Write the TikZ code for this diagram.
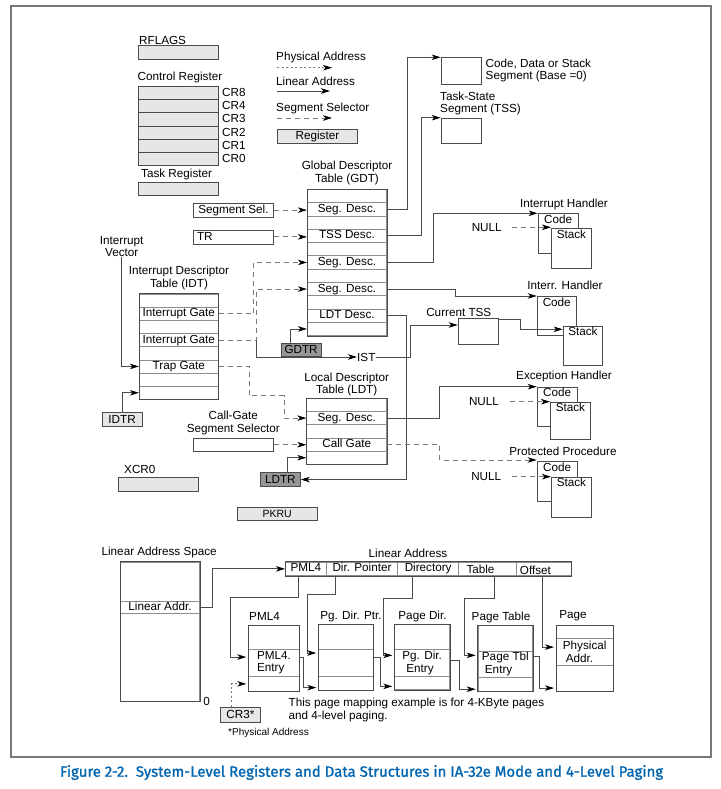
\documentclass[tikz,border=0pt]{standalone}
\usepackage{fontspec}
\setmainfont{Liberation Sans}
\newfontfamily\capfont{Fira Sans}[FakeBold=1.2]
\usetikzlibrary{arrows.meta,calc}
\definecolor{linec}{RGB}{75,75,75}
\definecolor{dashc}{RGB}{120,120,120}
\definecolor{regfill}{RGB}{230,230,230}
\definecolor{darkfill}{RGB}{150,150,150}
\definecolor{rowc}{RGB}{140,140,140}
\definecolor{capblue}{RGB}{0,100,175}
\definecolor{framec}{RGB}{120,120,120}
\newcommand\mybx[6]{\node[#1, minimum width={(#4)-(#2)}, minimum height={(#5)-(#3)}] (#6) at (#2,#3)}
\tikzset{
  reg/.style={draw=linec, fill=regfill, line width=0.8pt, anchor=north west},
  dreg/.style={draw=linec, fill=darkfill, line width=0.8pt, anchor=north west},
  wbox/.style={draw=linec, fill=white, line width=0.8pt, anchor=north west},
  row/.style={draw=rowc, line width=0.7pt, fill=white, text height=8.5pt, text depth=2.5pt},
  mrow/.style={draw=rowc, line width=0.7pt, fill=white, align=left, font=\fontsize{11.7}{12.6}\selectfont},
  tabb/.style={draw=linec, line width=0.9pt},
  tip/.style={-{Stealth[length=9pt,width=5.5pt,inset=2.5pt,color=black]}},
  lin/.style={draw=linec, line width=0.85pt, tip},
  segl/.style={draw=dashc, line width=0.85pt, dash pattern=on 5pt off 4pt, tip},
  phys/.style={draw=dashc, line width=0.85pt, dash pattern=on 2pt off 2.5pt, tip},
  pg/.style={lin, shorten >=2pt},
  lbl/.style={label={[anchor=north,inner sep=1.5pt]north:#1}},
  two/.style={align=center, font=\fontsize{11.7}{12.8}\selectfont},
}
\begin{document}
\begin{tikzpicture}[x=1pt,y=-1pt, font=\fontsize{11.7}{13.3}\selectfont, inner sep=0pt]
\useasboundingbox (0,0) rectangle (720,789);
\draw[framec, line width=1.6pt] (11,6) rectangle (711,757);

% ---------- registers ----------
\node[anchor=west] (trflags) at (139,40) {RFLAGS};
\mybx{reg}{138}{45}{218}{59}{rflags}{};
\node[anchor=west] (tcr) at (137.5,77) {Control Register};
\foreach \n/\t [count=\i] in {crr8/CR8,crr4/CR4,crr3/CR3,crr2/CR2,crr1/CR1,crr0/CR0} {
  \node[reg, minimum width=79.5, minimum height=13.17] (\n) at (138,{86+13.17*(\i-1)}) {};
  \node[anchor=west] (t\n) at (222,{86+13.17*(\i-0.5)}) {\t};
}
\node[anchor=west] (ttask) at (141,174) {Task Register};
\mybx{reg}{138}{182}{218}{195}{taskreg}{};

% ---------- legend ----------
\node[anchor=west] (lgp) at (276,57.7) {Physical Address};
\coordinate (lgp1) at (277,67.7); \coordinate (lgp2) at (332,67.7);
\draw[phys] (lgp1) -- (lgp2);
\node[anchor=west] (lgl) at (276,81) {Linear Address};
\coordinate (lgl1) at (277,91); \coordinate (lgl2) at (330,91);
\draw[lin] (lgl1) -- (lgl2);
\node[anchor=west] (lgs) at (276,108) {Segment Selector};
\coordinate (lgs1) at (277,118); \coordinate (lgs2) at (332,118);
\draw[segl] (lgs1) -- (lgs2);
\mybx{reg}{277}{129}{357}{143}{lgreg}{Register};

% ---------- segments ----------
\mybx{wbox}{440.7}{57.3}{480.7}{84}{cds}{};
\node[anchor=west, align=left, font=\fontsize{11.7}{11.8}\selectfont] (tcds) at (485.5,70.2) {Code, Data or Stack\\Segment (Base =0)};
\mybx{wbox}{440.7}{117.7}{480.7}{143.3}{tss}{};
\node[anchor=west, align=left, font=\fontsize{11.7}{12}\selectfont] (ttss) at (440,103.3) {Task-State\\Segment (TSS)};

% ---------- GDT ----------
\node[two] (tgdt) at (347,172.7) {Global Descriptor\\Table (GDT)};
\foreach \t [count=\i] in {{},{Seg. Desc.},{},{TSS Desc.},{},{Seg. Desc.},{},{Seg. Desc.},{},{LDT Desc.},{}}
  \node[row, minimum width=79.4, minimum height=13.3] (g\i) at (347,{189.3+13.3*(\i-0.5)}) {\t};
\draw[tabb] (g1.north west) rectangle (g11.south east);

\mybx{wbox}{193.3}{202.7}{272.7}{216.7}{segsel}{Segment Sel.};
\mybx{wbox}{193.3}{229.5}{272.7}{243.5}{tr}{};
\node[anchor=west] (ttr) at ([xshift=3.5pt]tr.west) {TR};
\draw[segl] (segsel.east) -- (segsel.east -| g2.west);
\draw[segl] (tr.east) -- (tr.east -| g4.west);
\mybx{dreg}{280.7}{342.7}{320.7}{356}{gdtr}{GDTR};
\draw[lin] ([xshift=-10.7pt]gdtr.north) |- (g11.west);

\draw[lin] (g2.east) -- ++(20,0) |- (cds.north west);
\draw[lin] (g4.east) -- ++(34.6,0) |- (tss.north west);

% ---------- IDT ----------
\node[two] (tidt) at (179,278.3) {Interrupt Descriptor\\Table (IDT)};
\foreach \t [count=\i] in {{},{Interrupt Gate},{},{Interrupt Gate},{},{Trap Gate},{},{}}
  \node[row, minimum width=79, minimum height=13.17] (i\i) at (178.8,{294+13.17*(\i-0.5)}) {\t};
\draw[tabb] (i1.north west) rectangle (i8.south east);
\node[two] (tiv) at (121.7,246.5) {Interrupt\\Vector};
\draw[lin] (tiv.south) |- (i6.west);
\mybx{reg}{101.7}{412.3}{141.7}{426}{idtr}{IDTR};
\draw[lin] (idtr.north) |- (i8.west);

\draw[segl] (i2.east) -- ++(35,0) |- (g6.west);
\coordinate (j2) at ($(i4.east)+(37.7,0)$);
\draw[segl] (i4.east) -- (j2) |- (g8.west);
\node[anchor=west] (ist) at (357,357) {IST};
\draw[lin] (j2) |- (ist.west);

% ---------- handlers ----------
\node (tih1) at (564,204.3) {Interrupt Handler};
\mybx{wbox,lbl=Code}{537.7}{213.3}{577.7}{252.7}{ih1code}{};
\mybx{wbox,lbl=Stack}{551}{228.3}{591}{268.3}{ih1stack}{};
\draw[lin] (g6.east) -- ++(46.6,0) |- (ih1code.north west);
\node (null1) at (486.7,227.3) {NULL};
\draw[segl] ([xshift=10pt]null1.east) -- (null1.east -| ih1stack.west);

\mybx{wbox}{457.7}{318.3}{497.7}{344.3}{ctss}{};
\node (tctss) at (458.8,312.5) {Current TSS};
\draw[lin] (ist.east) -- ++(35,0) |- ([yshift=-6.7pt]ctss.north west);

\node (tih2) at (565,285) {Interr. Handler};
\mybx{wbox,lbl=Code}{536.7}{296}{576}{335}{ih2code}{};
\mybx{wbox,lbl=Stack}{562.7}{325.7}{602.3}{365}{ih2stack}{};
\draw[lin] (g8.east) -- ++(68.3,0) |- (ih2code.north west);
\draw[lin] ([yshift=-1pt]ctss.north east) -- ++(21.6,0) |- ([yshift=-3.6pt]ih2stack.north west);

% ---------- LDT ----------
\node[two] (tldt) at (346.7,384.5) {Local Descriptor\\Table (LDT)};
\foreach \t [count=\i] in {{},{Seg. Desc.},{},{Call Gate},{}}
  \node[row, minimum width=80, minimum height=13.2] (l\i) at (346.7,{398.3+13.2*(\i-0.5)}) {\t};
\draw[tabb] (l1.north west) rectangle (l5.south east);
\mybx{dreg}{260}{472.3}{300}{486}{ldtr}{LDTR};
\draw[lin] (g10.east) -- ++(19.3,0) |- (ldtr.east);
\draw[lin] ([xshift=7.3pt]ldtr.north) |- (l5.west);
\draw[segl] (i6.east) -- ++(30.7,0) -- ++(0,29.4) -| ($(l2.west)+(-22.4,0)$) -- (l2.west);
\node[two] (tcgs) at (233.3,423) {Call-Gate\\Segment Selector};
\mybx{wbox}{192.7}{437.7}{272.7}{451}{cgsel}{};
\draw[segl] (cgsel.east) -- (cgsel.east -| l4.west);

\node (teh) at (564,376.7) {Exception Handler};
\mybx{wbox,lbl=Code}{536.7}{386.7}{576.7}{426}{ehcode}{};
\mybx{wbox,lbl=Stack}{550}{401.7}{590}{439.3}{ehstack}{};
\draw[lin] (l2.east) -- ++(52.6,0) |- (ehcode.north west);
\node (null2) at (484,401.7) {NULL};
\draw[segl] ([xshift=11pt]null2.east) -- (null2.east -| ehstack.west);

\node (tpp) at (563,451) {Protected Procedure};
\mybx{wbox,lbl=Code}{536.7}{461.3}{576.7}{501}{ppcode}{};
\mybx{wbox,lbl=Stack}{551}{476.7}{591}{516.7}{ppstack}{};
\draw[segl] (l4.east) -- ++(52.6,0) |- ([yshift=1.3pt]ppcode.north west);
\node (null3) at (486.2,476.7) {NULL};
\draw[segl] ([xshift=11pt]null3.east) -- (null3.east -| ppstack.west);

\node[anchor=west] (txcr0) at (124,469.3) {XCR0};
\mybx{reg}{118.3}{477.3}{198.3}{491}{xcr0}{};
\mybx{reg,font=\fontsize{10.5}{12}\selectfont}{236.7}{506.7}{316.7}{520}{pkru}{PKRU};

% ---------- paging ----------
\node (tlas) at (159.2,552.7) {Linear Address Space};
\mybx{row,anchor=north west}{120}{561.7}{199.3}{601}{las1}{};
\mybx{row,anchor=north west}{120}{601}{199.3}{613.3}{las2}{Linear Addr.};
\mybx{row,anchor=north west}{120}{613.3}{199.3}{701}{las3}{};
\draw[tabb] (las1.north west) rectangle (las3.south east);
\node (tzero) at (206.7,701) {0};

\node (tla) at (408,553.3) {Linear Address};
\mybx{row,anchor=north west}{285}{561.7}{326}{575.3}{la1}{PML4};
\mybx{row,anchor=north west}{326}{561.7}{397.3}{575.3}{la2}{Dir. Pointer};
\mybx{row,anchor=north west}{397.3}{561.7}{458.3}{575.3}{la3}{Directory};
\mybx{row,anchor=north west,label={[anchor=west,xshift=8pt]west:Table}}{458.3}{561.7}{515.7}{575.3}{la4}{};
\mybx{row,anchor=north west,label={[anchor=west,xshift=4pt,yshift=-1pt]west:Offset}}{515.7}{561.7}{570.7}{575.3}{la5}{};
\draw[tabb] (la1.north west) rectangle (la5.south east);
\draw[lin] (las2.east) -- ++(12.4,0) |- (la1.west);

% PML4
\node (tpml4) at (264.5,616) {PML4};
\mybx{row,anchor=north west}{248.3}{625}{299}{649}{pm1}{};
\mybx{mrow,anchor=north west}{248.3}{649}{299}{676}{pm2}{PML4.\\Entry};
\mybx{row,anchor=north west}{248.3}{676}{299}{691}{pm3}{};
\draw[tabb] (pm1.north west) rectangle (pm3.south east);
% PDPT
\node (tpdpt) at (351,616.7) {Pg. Dir. Ptr.};
\mybx{row,anchor=north west}{318.3}{624.3}{372.7}{649}{pd1}{};
\mybx{row,anchor=north west}{318.3}{649}{372.7}{675.7}{pd2}{};
\mybx{row,anchor=north west}{318.3}{675.7}{372.7}{690}{pd3}{};
\draw[tabb] (pd1.north west) rectangle (pd3.south east);
% Page Dir
\node (tpd) at (422.5,616) {Page Dir.};
\mybx{row,anchor=north west}{394.3}{624}{449.3}{649.3}{d1}{};
\mybx{mrow,anchor=north west}{394.3}{649.3}{449.3}{675.7}{d2}{Pg. Dir.\\\hspace*{4pt}Entry};
\mybx{row,anchor=north west}{394.3}{675.7}{449.3}{689.3}{d3}{};
\draw[tabb] (d1.north west) rectangle (d3.south east);
% Page Table
\node (tpt) at (501,617.3) {Page Table};
\mybx{row,anchor=north west}{477.7}{625}{532.3}{650.7}{t1}{};
\mybx{mrow,anchor=north west}{477.7}{650.7}{532.3}{676.7}{t2}{Page Tbl\\\hspace*{3pt}Entry};
\mybx{row,anchor=north west}{477.7}{676.7}{532.3}{691}{t3}{};
\draw[tabb] (t1.north west) rectangle (t3.south east);
% Page
\node (tpage) at (573,616) {Page};
\mybx{row,anchor=north west}{556}{625}{612.7}{637.7}{pg1}{};
\mybx{mrow,anchor=north west}{556}{637.7}{612.7}{665}{pg2}{Physical\\\hspace*{3pt}Addr.};
\mybx{row,anchor=north west}{556}{665}{612.7}{691}{pg3}{};
\draw[tabb] (pg1.north west) rectangle (pg3.south east);

% paging connectors
\draw[pg] ([xshift=-7.2pt]la1.south) |- (230.7,597.7) |- ([yshift=5.8pt]pm2.west);
\mybx{reg}{220}{706.7}{260}{721.7}{cr3}{CR3*};
\draw[phys, shorten >=2pt] ([xshift=-9.3pt]cr3.north) |- (pm3.west);
\draw[pg] ([xshift=-26.7pt]la2.south) |- (307.3,594) |- ([yshift=9.7pt]pd2.west);
\draw[pg] ([yshift=5.8pt]pm2.east) -- ++(3.7,0) |- ([yshift=-4.4pt]pd3.west);
\draw[pg] ([xshift=-16.1pt]la3.south) |- (383.3,598.3) |- ([yshift=7.5pt]d2.west);
\draw[pg] ([yshift=5.7pt]pd2.east) -- ++(7.3,0) |- ([yshift=-3.5pt]d3.west);
\draw[pg] ([xshift=7.3pt]la4.south) |- (464,598.3) |- ([yshift=8.7pt]t2.west);
\draw[pg] ([yshift=2.5pt]d2.east) -- ++(9,0) |- ([yshift=-5pt]t3.west);
\draw[pg] ([xshift=-0.9pt]la5.south) |- ([yshift=4.6pt]pg2.west);
\draw[pg] ([yshift=7.7pt]t2.east) -- ++(6.7,0) |- ([yshift=-9.7pt]pg3.west);

\node[anchor=west, align=left, font=\fontsize{11.7}{12.7}\selectfont] (tnote) at (288.5,710.3) {This page mapping example is for 4-KByte pages\\and 4-level paging.};
\node[anchor=west, font=\fontsize{10}{12}\selectfont] (tphys) at (228,732.7) {*Physical Address};

% caption
\node[text=capblue] (cap) at (361.6,772.5) {\resizebox{603pt}{!}{\capfont\fontsize{13}{15}\selectfont Figure 2-2.\ \ System-Level Registers and Data Structures in IA-32e Mode and 4-Level Paging}};
\end{tikzpicture}
\end{document}
